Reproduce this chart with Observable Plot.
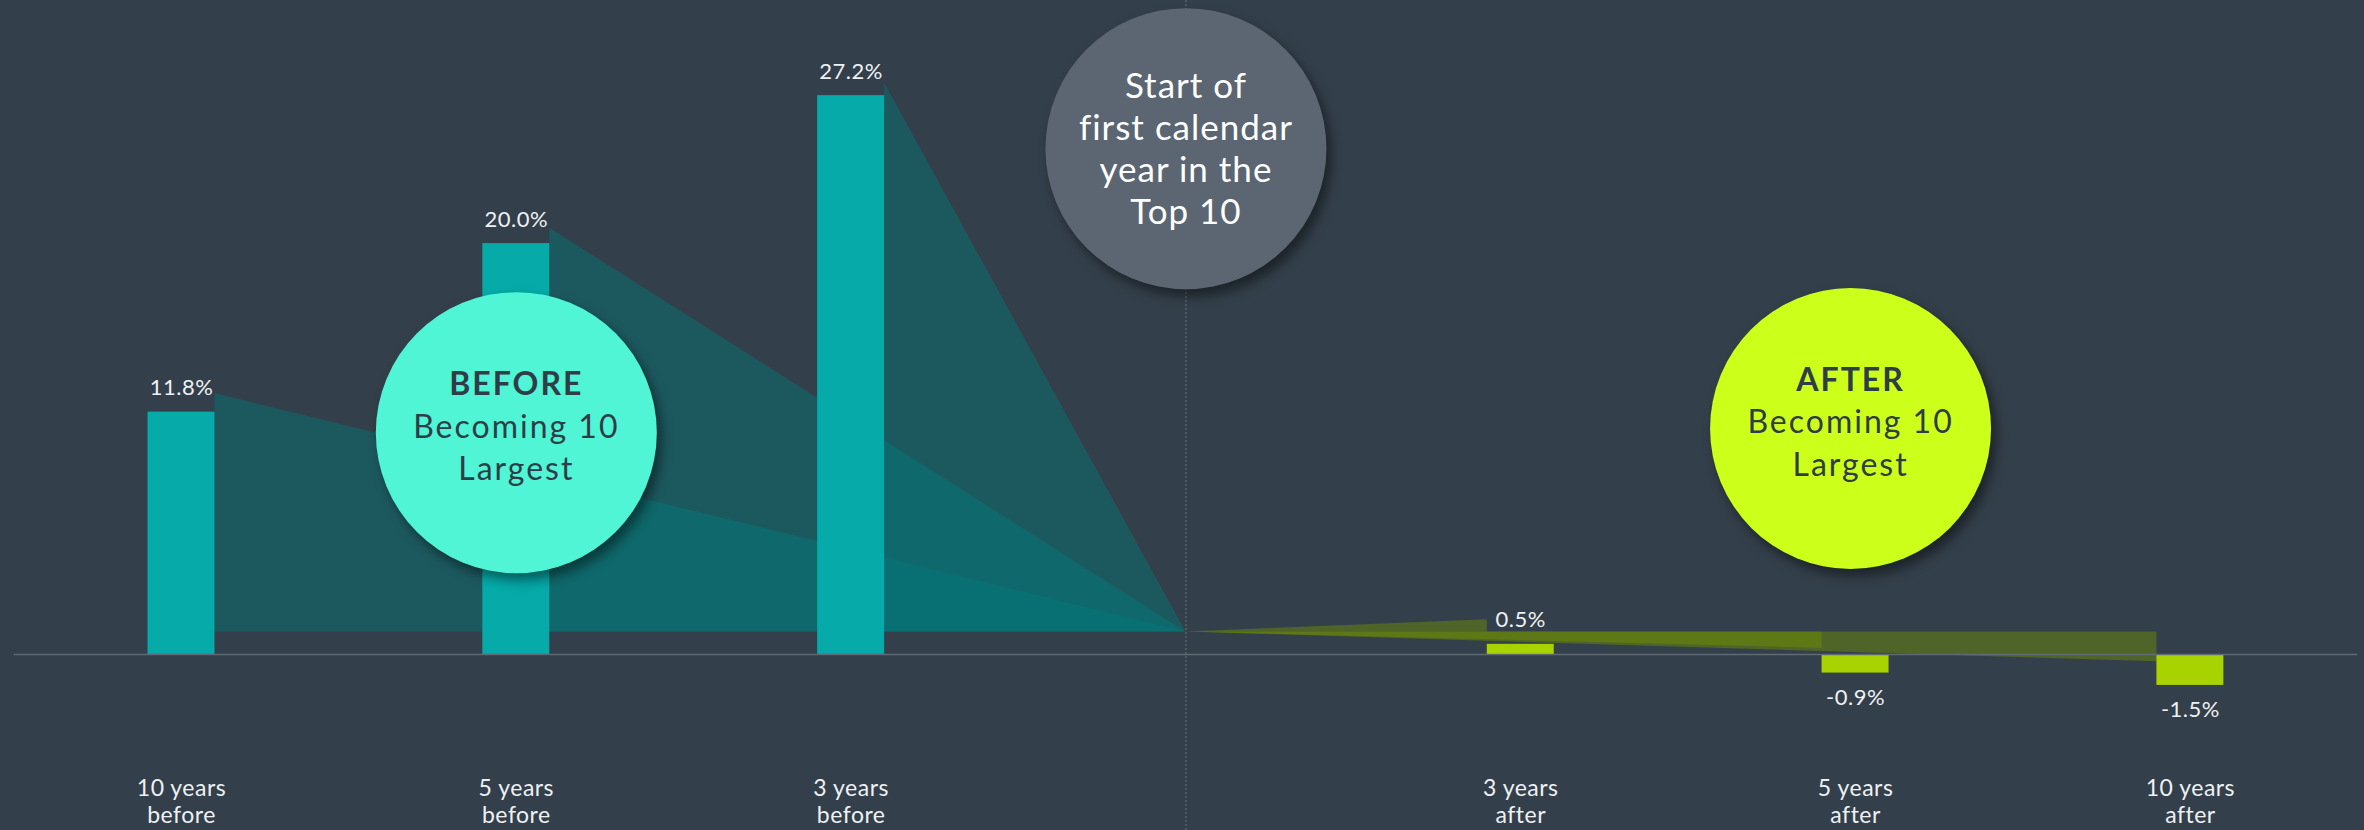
<!DOCTYPE html>
<html>
<head>
<meta charset="utf-8">
<script src="https://cdn.jsdelivr.net/npm/d3@7"></script>
<script src="https://cdn.jsdelivr.net/npm/@observablehq/plot@0.6"></script>
<style>
  html, body { margin: 0; padding: 0; background: #333f4a; overflow: hidden; }
  #chart { width: 2364px; height: 830px; }
</style>
</head>
<body>
<div id="chart"></div>
<script>
// ---- data ----
const beforeLabels = ["10 years\nbefore", "5 years\nbefore", "3 years\nbefore"];
const beforeValues = [11.8, 20.0, 27.2];
const afterLabels = ["3 years\nafter", "5 years\nafter", "10 years\nafter"];
const afterValues = [0.5, -0.9, -1.5];
const startLabel = "Start of\nfirst calendar\nyear in the\nTop 10";
const beforeFanTips = [12.7, 20.75, 27.8];
const afterFanTips = [1.7, 0.3, -0.35];
const fanApex = 1.1;
const calloutHeads = ["BEFORE", "AFTER"];
const calloutBody = ["Becoming 10\nLargest", "Becoming 10\nLargest"];

// ---- build tables ----
const labels = [...beforeLabels, "", ...afterLabels];
const pivot = beforeLabels.length; // index of the start line
const half = 0.1;
const bars = [
  ...beforeValues.map((v, i) => ({i, v, side: "before", label: labels[i]})),
  ...afterValues.map((v, j) => ({i: pivot + 1 + j, v, side: "after", label: labels[pivot + 1 + j]}))
];
const fans = [];
beforeFanTips.forEach((t, i) => {
  fans.push({fan: "b" + i, side: "before", x: i + half, y1: fanApex, y2: t});
  fans.push({fan: "b" + i, side: "before", x: pivot, y1: fanApex, y2: fanApex});
});
afterFanTips.forEach((t, j) => {
  const i = pivot + 1 + j;
  fans.push({fan: "a" + j, side: "after", x: pivot, y1: fanApex, y2: fanApex});
  fans.push({fan: "a" + j, side: "after", x: i - half, y1: fanApex, y2: t});
});
const callouts = [
  {x: 1, y: 10.8, head: calloutHeads[0], body: calloutBody[0], fill: "#50f5d6"},
  {x: 4.985, y: 11.0, head: calloutHeads[1], body: calloutBody[1], fill: "#ccff1a"}
];
const startCallout = [{x: pivot, y: 24.62, text: startLabel}];

const font = "Lato, 'Open Sans', sans-serif";

const chart = Plot.plot({
  width: 2364,
  height: 830,
  marginTop: 0, marginBottom: 0, marginLeft: 0, marginRight: 0,
  style: {background: "#333f4a", color: "white", fontFamily: font},
  x: {domain: [-0.5406, 6.52], axis: null},
  y: {domain: [-8.56, 31.83], axis: null},
  marks: [
    // fans
    Plot.areaY(fans.filter(d => d.side === "before"), {x: "x", y1: "y1", y2: "y2", z: "fan", fill: "rgb(0,124,122)", fillOpacity: 0.44}),
    Plot.areaY(fans.filter(d => d.side === "after"), {x: "x", y1: "y1", y2: "y2", z: "fan", fill: "rgb(111,143,0)", fillOpacity: 0.46}),
    // bars
    Plot.rectY(bars, {x1: d => d.i - half, x2: d => d.i + half, y1: 0, y2: "v",
      fill: d => d.side === "before" ? "#05aaa9" : "#a8d200"}),
    // baseline
    Plot.ruleY([0], {x1: -0.5, x2: 6.5, stroke: "#5f6a75", strokeWidth: 1.5}),
    // start line
    Plot.ruleX([pivot], {stroke: "#6c7781", strokeWidth: 1, strokeDasharray: "2,2"}),
    // value labels (text group 0, 1)
    Plot.text(bars, {x: "i", y: "v", text: d => d.v.toFixed(1) + "%",
      fill: "#eef1f3", fontSize: 22, filter: d => d.v >= 0, dy: -24}),
    Plot.text(bars, {x: "i", y: "v", text: d => d.v.toFixed(1) + "%",
      fill: "#eef1f3", fontSize: 22, filter: d => d.v < 0, dy: 25}),
    // category labels (text group 2)
    Plot.text(labels.map((t, i) => ({t, i})).filter(d => d.t), {x: "i", text: "t", frameAnchor: "bottom",
      lineAnchor: "middle", dy: -30, fontSize: 23, lineHeight: 1.2, fill: "#eef1f3"}),
    // callouts
    Plot.dot(callouts, {x: "x", y: "y", r: 140.5, fill: "fill"}),
    Plot.dot(startCallout, {x: "x", y: "y", r: 140.5, fill: "#5b6672"}),
    // callout text (text groups 3, 4, 5)
    Plot.text(callouts, {x: "x", y: "y", text: "head", fontSize: 32, fontWeight: "bold", fill: "#2f3d47", dy: -48}),
    Plot.text(callouts, {x: "x", y: "y", text: "body", fontSize: 32, lineHeight: 1.33, fill: "#2f3d47", dy: 12.6}),
    Plot.text(startCallout, {x: "x", y: "y", text: "text", fontSize: 35, lineHeight: 1.2, fill: "#ffffff", dy: -1.4})
  ]
});

// cosmetic touches: drop shadows on callout circles, letter spacing on texts
const svg = d3.select(chart.tagName.toLowerCase() === "svg" ? chart : chart.querySelector("svg"));
svg.selectAll('g[aria-label="dot"] circle')
  .style("filter", "drop-shadow(5px 7px 6px rgba(0,0,0,0.45))");
const textGroups = svg.selectAll('g[aria-label="text"]').nodes();
const spacing = ["0.5px", "0.5px", "0.5px", "2px", "2px", "1px"];
textGroups.forEach((g, k) => { if (spacing[k]) g.style.letterSpacing = spacing[k]; });

document.getElementById("chart").appendChild(chart);
</script>
</body>
</html>
